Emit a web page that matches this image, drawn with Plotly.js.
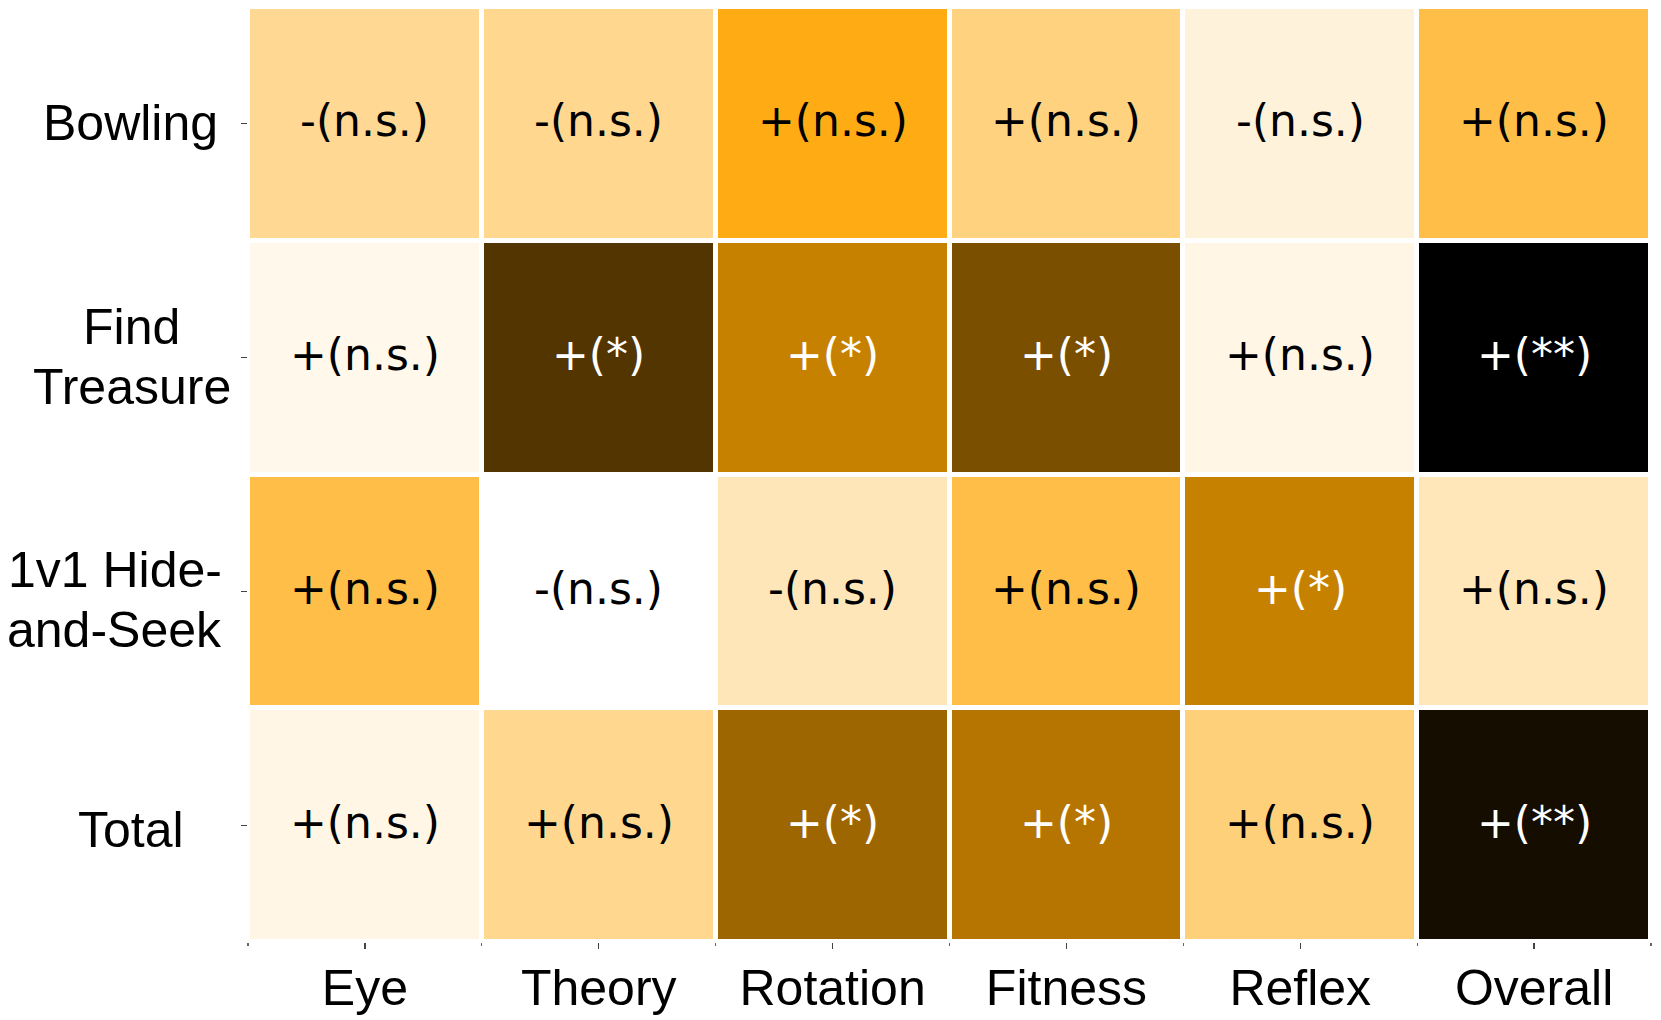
<!DOCTYPE html>
<html>
<head>
<meta charset="utf-8">
<script src="https://cdn.plot.ly/plotly-3.0.1.min.js"></script>
<style>
  html, body { margin: 0; padding: 0; background: #fff; }
  #chart { width: 1661px; height: 1020px; }
</style>
</head>
<body>
<div id="chart"></div>
<script>
// Columns (x) and rows (y, top to bottom)
const skills = ['Eye', 'Theory', 'Rotation', 'Fitness', 'Reflex', 'Overall'];
const games = ['Bowling', 'Find<br>Treasure', '1v1 Hide-<br>and-Seek', 'Total'];

// Effect strength per cell (0 = white, 0.5 = orange, 1 = black)
const bowling      = [0.21, 0.22, 0.46, 0.25, 0.07, 0.36];
const findTreasure = [0.04, 0.84, 0.61, 0.76, 0.05, 1.00];
const hideAndSeek  = [0.36, 0.00, 0.14, 0.36, 0.61, 0.135];
const total        = [0.05, 0.22, 0.69, 0.645, 0.26, 0.96];

// Sign and significance label per cell
const bowlingText      = ['-(n.s.)', '-(n.s.)', '+(n.s.)', '+(n.s.)', '-(n.s.)', '+(n.s.)'];
const findTreasureText = ['+(n.s.)', '+(*)', '+(*)', '+(*)', '+(n.s.)', '+(**)'];
const hideAndSeekText  = ['+(n.s.)', '-(n.s.)', '-(n.s.)', '+(n.s.)', '+(*)', '+(n.s.)'];
const totalText        = ['+(n.s.)', '+(n.s.)', '+(*)', '+(*)', '+(n.s.)', '+(**)'];

// Row label placement: paper x of the centre, vertical nudge in px
const rowLabelX = [-0.0835, -0.083, -0.095, -0.0835];
const rowLabelShift = [1, 1, -9, -5];

const zRows = [bowling, findTreasure, hideAndSeek, total];
const textRows = [bowlingText, findTreasureText, hideAndSeekText, totalText];

const xIdx = skills.map((_, i) => i);
const yIdx = games.map((_, i) => i);

const labelFont = 'Liberation Sans, Arial, sans-serif';

const heat = {
    type: 'heatmap',
    x: xIdx,
    y: yIdx,
    z: zRows,
    zmin: 0,
    zmax: 1,
    colorscale: [
        [0, '#FFFFFF'],
        [0.5, '#FFA500'],
        [1, '#000000']
    ],
    showscale: false,
    xgap: 5,
    ygap: 5,
    hoverinfo: 'skip'
};

// Cell labels: white on dark cells, black on light ones
const annotations = [];
zRows.forEach((row, i) => {
    row.forEach((v, j) => {
        annotations.push({
            x: j, y: i, xref: 'x', yref: 'y',
            text: textRows[i][j],
            showarrow: false,
            yshift: 3,
            font: { family: 'DejaVu Sans', size: 44, color: v > 0.55 ? '#ffffff' : '#000000' }
        });
    });
});

// Row labels, one annotation per line so the line spacing matches
const lineGap = 60;
games.forEach((g, i) => {
    const lines = g.split('<br>');
    lines.forEach((line, k) => {
        const offset = (lines.length - 1) / 2 - k;
        annotations.push({
            x: rowLabelX[i], y: i, xref: 'paper', yref: 'y',
            xanchor: 'center', yanchor: 'middle',
            yshift: rowLabelShift[i] + offset * lineGap,
            text: line,
            showarrow: false,
            font: { family: labelFont, size: 50, color: '#000' }
        });
    });
});

const layout = {
    width: 1661,
    height: 1020,
    margin: { l: 248, r: 10, t: 7, b: 78 },
    paper_bgcolor: '#ffffff',
    plot_bgcolor: '#ffffff',
    xaxis: {
        range: [-0.5, 5.5],
        tickvals: xIdx,
        ticktext: skills,
        ticks: 'outside',
        ticklen: 6,
        tickwidth: 1.2,
        tickcolor: '#444',
        ticklabelstandoff: -4,
        showgrid: false,
        zeroline: false,
        showline: false,
        tickfont: { family: labelFont, size: 50, color: '#000' },
        minor: { ticks: 'outside', ticklen: 3, tick0: -0.5, dtick: 1, tickcolor: '#666', showgrid: false }
    },
    yaxis: {
        range: [3.5, -0.5],
        tickvals: yIdx,
        showticklabels: false,
        ticks: 'outside',
        ticklen: 6,
        tickwidth: 1.2,
        tickcolor: '#444',
        showgrid: false,
        zeroline: false,
        showline: false
    },
    annotations: annotations,
    showlegend: false
};

Plotly.newPlot('chart', [heat], layout, { displayModeBar: false, staticPlot: true });
</script>
</body>
</html>
